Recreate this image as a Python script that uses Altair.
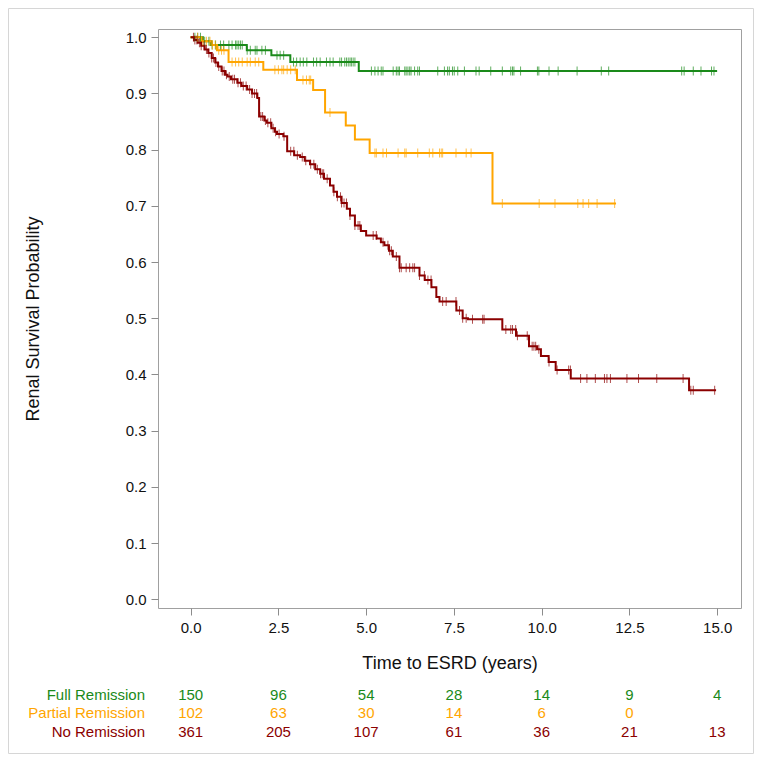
import altair as alt
import pandas as pd

# ---------------- data ----------------
groups = ["Full Remission", "Partial Remission", "No Remission"]
colors = ["#1a8a1a", "#ffa500", "#8b0000"]

full_t = [0.0, 0.35, 0.57, 1.6, 2.3, 2.84, 4.79, 15.0]
full_s = [1.0, 0.993, 0.986, 0.977, 0.968, 0.956, 0.94, 0.94]
full_cens = [0.12, 0.2, 0.28, 0.4, 0.52, 0.61, 0.71, 0.85, 0.94, 1.09, 1.18, 1.28, 1.32,
             1.37, 1.42, 1.47, 1.61, 1.70, 1.84, 1.89, 2.03, 2.13, 2.46, 2.55, 2.65, 2.93,
             3.02, 3.12, 3.21, 3.31, 3.50, 3.59, 3.69, 3.87, 3.97, 4.06, 4.25, 4.30, 4.39,
             4.44, 4.49, 4.54, 4.58, 4.63, 4.68, 5.15, 5.25, 5.34, 5.43, 5.48, 5.77, 5.86,
             5.91, 5.95, 6.10, 6.14, 6.19, 6.24, 6.28, 6.38, 6.47, 6.52, 7.04, 7.23, 7.32,
             7.37, 7.46, 7.51, 7.61, 7.80, 8.13, 8.22, 8.55, 8.88, 9.12, 9.17, 9.21, 9.40,
             9.88, 9.92, 10.21, 10.47, 11.01, 11.70, 11.91, 13.99, 14.06, 14.32, 14.54,
             14.84, 14.91]

partial_t = [0.0, 0.3, 0.6, 0.75, 1.08, 2.07, 3.03, 3.49, 3.83, 4.42, 4.68, 5.1, 8.6, 12.12]
partial_s = [1.0, 0.993, 0.986, 0.977, 0.956, 0.942, 0.924, 0.906, 0.866, 0.843, 0.818,
             0.794, 0.704, 0.704]
partial_cens = [0.2, 0.35, 0.45, 0.55, 0.62, 0.7, 0.8, 0.88, 0.95, 1.18, 1.28, 1.37, 1.47,
                1.61, 1.70, 1.84, 1.94, 2.4, 2.5, 2.6, 2.65, 2.75, 2.85, 2.98, 3.2, 3.3,
                3.38, 3.42, 3.97, 5.25, 5.29, 5.48, 5.58, 5.91, 6.10, 6.14, 6.47, 6.80,
                6.90, 7.09, 7.14, 7.18, 7.56, 7.85, 7.99, 8.88, 9.93, 10.38, 11.03, 11.18,
                11.34, 11.58, 12.08]

none_t = [0.0, 0.1, 0.2, 0.3, 0.4, 0.5, 0.6, 0.7, 0.78, 0.88, 0.98, 1.05, 1.15, 1.33, 1.45,
          1.61, 1.75, 1.9, 1.95, 2.1, 2.17, 2.3, 2.4, 2.46, 2.64, 2.75, 2.95, 3.12, 3.25,
          3.4, 3.55, 3.69, 3.8, 3.97, 4.07, 4.17, 4.3, 4.45, 4.54, 4.68, 4.85, 5.0, 5.3,
          5.42, 5.52, 5.65, 5.76, 5.95, 6.52, 6.67, 6.86, 7.0, 7.09, 7.57, 7.75, 7.9, 8.88,
          9.27, 9.64, 9.87, 9.98, 10.2, 10.4, 10.83, 14.2, 14.97]
none_s = [1.0, 0.995, 0.99, 0.985, 0.978, 0.972, 0.963, 0.955, 0.948, 0.94, 0.933, 0.93,
          0.925, 0.919, 0.913, 0.907, 0.9, 0.892, 0.859, 0.852, 0.848, 0.838, 0.832, 0.828,
          0.824, 0.797, 0.79, 0.787, 0.78, 0.774, 0.765, 0.757, 0.748, 0.736, 0.725, 0.716,
          0.705, 0.695, 0.683, 0.665, 0.655, 0.647, 0.642, 0.635, 0.63, 0.62, 0.61, 0.59,
          0.576, 0.568, 0.555, 0.538, 0.53, 0.514, 0.5, 0.498, 0.48, 0.469, 0.45, 0.445,
          0.433, 0.422, 0.408, 0.393, 0.372, 0.372]
none_cens = [0.08, 0.12, 0.18, 0.25, 0.3, 0.38, 0.45, 0.52, 0.6, 0.65, 0.72, 0.8, 0.9, 0.95,
             1.02, 1.1, 1.2, 1.25, 1.35, 1.42, 1.5, 1.58, 1.68, 1.75, 1.82, 1.88, 2.0, 2.05,
             2.13, 2.2, 2.28, 2.35, 2.42, 2.52, 2.66, 2.85, 2.94, 3.04, 3.18, 3.28, 3.42,
             3.51, 3.61, 3.70, 3.75, 3.79, 3.89, 4.08, 4.18, 4.27, 4.30, 4.37, 4.44, 4.54,
             4.68, 4.77, 4.82, 5.20, 5.29, 5.48, 5.62, 5.67, 5.72, 5.86, 5.95, 6.0, 6.14,
             6.24, 6.33, 6.38, 6.52, 6.66, 6.76, 6.85, 7.18, 7.28, 7.56, 7.66, 7.75, 7.85,
             8.03, 8.32, 8.36, 8.98, 9.12, 9.17, 9.26, 9.31, 9.59, 9.73, 9.78, 9.83, 9.92,
             10.21, 10.44, 10.77, 10.82, 11.11, 11.29, 11.53, 11.79, 11.86, 11.96, 12.43,
             12.76, 13.28, 14.03, 14.25, 14.32, 14.93]

risk_times = [0.0, 2.5, 5.0, 7.5, 10.0, 12.5, 15.0]
risk_full = [150, 96, 54, 28, 14, 9, 4]
risk_partial = [102, 63, 30, 14, 6, 0]
risk_none = [361, 205, 107, 61, 36, 21, 13]

x_ticks = [0.0, 2.5, 5.0, 7.5, 10.0, 12.5, 15.0]
y_ticks = [0.0, 0.1, 0.2, 0.3, 0.4, 0.5, 0.6, 0.7, 0.8, 0.9, 1.0]

# ---------------- tables ----------------
curves = {
    "Full Remission": (full_t, full_s, full_cens, risk_full),
    "Partial Remission": (partial_t, partial_s, partial_cens, risk_partial),
    "No Remission": (none_t, none_s, none_cens, risk_none),
}


def surv_at(ts, ss, t):
    val = ss[0]
    for tt, sv in zip(ts, ss):
        if tt <= t:
            val = sv
    return val


line_rows, cens_rows = [], []
for g, (ts, ss, cs, _) in curves.items():
    for tt, sv in zip(ts, ss):
        line_rows.append({"group": g, "t": tt, "s": sv})
    for c in cs:
        cens_rows.append({"group": g, "t": c, "s": surv_at(ts, ss, c)})
line_df = pd.DataFrame(line_rows)
cens_df = pd.DataFrame(cens_rows)

FONT = "Liberation Sans, Arial, sans-serif"
W, H = 583, 579

xscale = alt.Scale(domain=[-0.93, 15.68], nice=False, zero=False)
yscale = alt.Scale(domain=[-0.0155, 1.0146], nice=False, zero=False)
cscale = alt.Scale(domain=groups, range=colors)

lines = alt.Chart(line_df).mark_line(interpolate="step-after", strokeWidth=2).encode(
    x=alt.X("t:Q", scale=xscale,
            axis=alt.Axis(values=x_ticks, format=".1f", title="Time to ESRD (years)",
                          titleX=W / 2, titleY=55, titleBaseline="middle",
                          titleAlign="center")),
    y=alt.Y("s:Q", scale=yscale,
            axis=alt.Axis(values=y_ticks, format=".1f", title="Renal Survival Probability",
                          titleX=-125, titleY=H / 2, titleBaseline="middle",
                          titleAlign="center", titleAngle=270)),
    color=alt.Color("group:N", scale=cscale, legend=None),
)

ticks = alt.Chart(cens_df).mark_tick(orient="vertical", size=9, thickness=1).encode(
    x=alt.X("t:Q", scale=xscale),
    y=alt.Y("s:Q", scale=yscale),
    color=alt.Color("group:N", scale=cscale, legend=None),
)

layers = [lines, ticks]

row_y = [666, 684, 703]
for (g, (_, _, _, risk)), ry in zip(curves.items(), row_y):
    rdf = pd.DataFrame({"t": risk_times[:len(risk)], "n": [str(v) for v in risk],
                        "group": g})
    layers.append(alt.Chart(rdf).mark_text(font=FONT, fontSize=15, baseline="middle",
                                            align="center").encode(
        x=alt.X("t:Q", scale=xscale),
        y=alt.value(ry),
        text="n:N",
        color=alt.Color("group:N", scale=cscale, legend=None),
    ))
    ldf = pd.DataFrame({"label": [g], "group": [g]})
    layers.append(alt.Chart(ldf).mark_text(font=FONT, fontSize=15, baseline="middle",
                                            align="right").encode(
        x=alt.value(-13),
        y=alt.value(ry),
        text="label:N",
        color=alt.Color("group:N", scale=cscale, legend=None),
    ))

border = alt.Chart(pd.DataFrame({"a": [0]})).mark_rect(
    fillOpacity=0, stroke="#d6d6d6", strokeWidth=1).encode(
    x=alt.value(-149.5), x2=alt.value(595.5), y=alt.value(-20.5), y2=alt.value(724.5))
layers.append(border)

chart = alt.layer(*layers).properties(
    width=W, height=H,
    padding={"left": 150, "top": 21, "right": 13, "bottom": 146},
    autosize=alt.AutoSizeParams(type="none"),
).configure_view(
    stroke="#a0a0a0", strokeWidth=1,
).configure_axis(
    domain=False, grid=False, tickColor="#8c8c8c", tickSize=7, labelPadding=5,
    labelFont=FONT, labelFontSize=15, labelColor="#111",
    titleFont=FONT, titleFontSize=18, titleFontWeight="normal", titleColor="#111",
)

chart.save("out.html", embed_options={"renderer": "svg", "actions": False})
